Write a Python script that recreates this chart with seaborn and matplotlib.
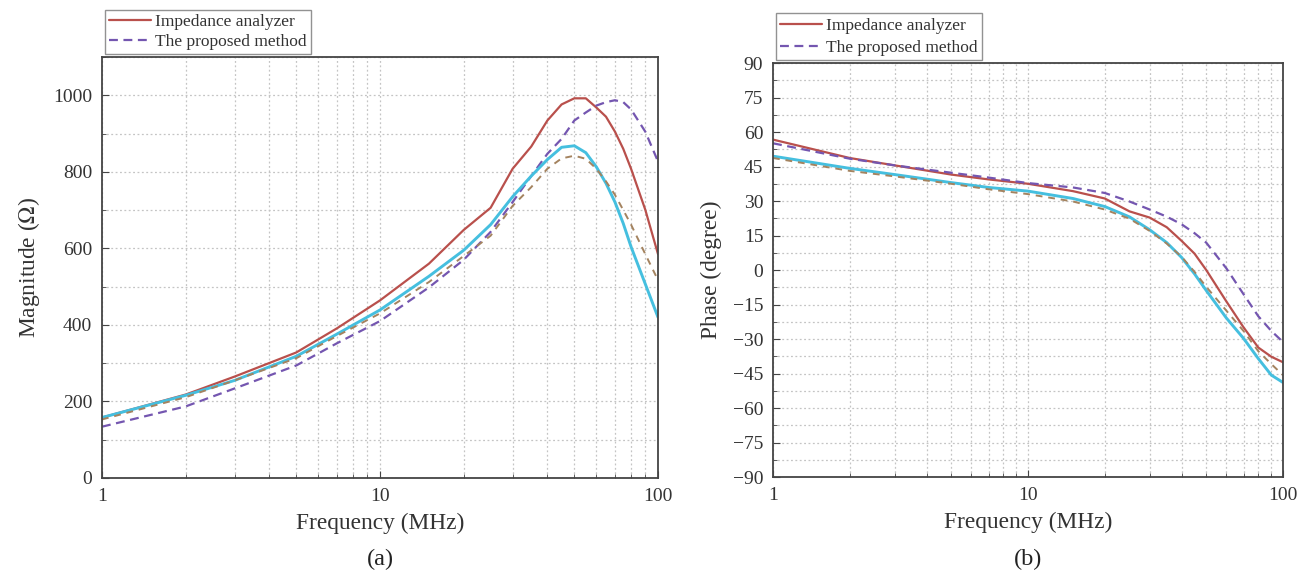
import numpy as np
import pandas as pd
import matplotlib
matplotlib.use('Agg')
import matplotlib.pyplot as plt
import matplotlib.ticker as mticker
import seaborn as sns

# --- DATOS: magnitud (a) ---
freq_mag = [1, 2, 3, 5, 7, 10, 15, 20, 25, 30, 35, 40, 45, 50, 55, 60, 65, 70, 75, 80, 90, 100]
mag_analyzer = [158, 218, 265, 328, 391, 464, 560, 648, 706, 808, 866, 934, 976, 992, 992, 968, 944, 905, 860, 808, 701, 585]
mag_proposed = [134, 187, 234, 294, 352, 410, 498, 570, 643, 721, 789, 847, 886, 934, 955, 973, 982, 987, 982, 963, 905, 827]
mag_analyzer2 = [158, 216, 255, 318, 376, 439, 527, 595, 662, 735, 789, 832, 864, 868, 850, 813, 770, 721, 665, 604, 507, 420]
mag_proposed2 = [153, 211, 255, 313, 371, 430, 512, 580, 633, 711, 760, 808, 835, 842, 834, 808, 775, 740, 700, 662, 585, 517]

# --- DATOS: fase (b) ---
freq_ph = [1, 2, 3, 5, 7, 10, 15, 20, 25, 30, 35, 40, 45, 50, 60, 70, 80, 90, 100]
ph_analyzer = [56.7, 48.7, 45.5, 41.5, 39.4, 37.5, 34.3, 31.1, 25.5, 22.8, 18.6, 12.7, 7.1, 0.0, -13.7, -24.9, -33.7, -37.7, -40.1]
ph_proposed = [55.1, 48.4, 45.5, 42.3, 40.2, 37.8, 35.9, 33.5, 29.8, 26.3, 23.2, 19.9, 16.0, 11.9, 0.7, -10.5, -20.1, -26.5, -31.3]
ph_analyzer2 = [49.5, 44.2, 41.5, 38.0, 35.9, 34.3, 31.1, 27.6, 23.1, 17.5, 11.9, 5.5, -1.7, -8.9, -20.9, -29.7, -38.5, -45.7, -48.9]
ph_proposed2 = [48.7, 43.1, 40.7, 37.5, 35.1, 33.0, 29.8, 26.3, 22.3, 17.0, 11.5, 5.8, -0.8, -7.3, -17.7, -26.5, -35.3, -40.9, -45.7]

LEGEND_LABELS = ['Impedance analyzer', 'The proposed method']
C_RED = '#b9504c'
C_PURPLE = '#7456b0'
C_CYAN = '#45bfdf'
C_BROWN = '#a4835f'

sns.set_style('white')
plt.rcParams['font.family'] = ['Liberation Serif', 'DejaVu Serif']
plt.rcParams['mathtext.fontset'] = 'stix'

fig = plt.figure(figsize=(13.04, 5.75), dpi=100)
ax1 = fig.add_axes([0.0782, 0.1687, 0.4264, 0.7322])
ax2 = fig.add_axes([0.5928, 0.1704, 0.3911, 0.7200])


def dibujar(ax, f, s1, s2, s3, s4):
    sns.lineplot(x=f, y=s1, ax=ax, color=C_RED, lw=1.6, legend=False)
    sns.lineplot(x=f, y=s2, ax=ax, color=C_PURPLE, lw=1.6, legend=False)
    sns.lineplot(x=f, y=s3, ax=ax, color=C_CYAN, lw=2.1, legend=False)
    sns.lineplot(x=f, y=s4, ax=ax, color=C_BROWN, lw=1.4, legend=False)
    ax.lines[1].set_linestyle((0, (4, 2.5)))
    ax.lines[3].set_linestyle((0, (3.5, 3)))


def formato(ax, ylabel, etiqueta, espacio):
    ax.set_xscale('log')
    ax.set_xlim(1, 100)
    ax.xaxis.set_major_locator(mticker.FixedLocator([1, 10, 100]))
    ax.xaxis.set_major_formatter(mticker.FixedFormatter(['1', '10', '100']))
    ax.xaxis.set_minor_locator(mticker.LogLocator(base=10, subs=np.arange(2, 10)))
    ax.xaxis.set_minor_formatter(mticker.NullFormatter())
    ax.grid(True, which='both', color='#c4c4c4', linestyle=(0, (1.5, 2)), linewidth=0.9)
    ax.tick_params(which='both', direction='in', colors='#444444', labelcolor='#333333',
                   labelsize=14, bottom=True, left=True)
    ax.tick_params(which='major', length=5, pad=7)
    ax.tick_params(which='minor', length=3)
    for sp in ax.spines.values():
        sp.set_color('#444444')
        sp.set_linewidth(1.3)
    ax.set_xlabel('Frequency (MHz)', fontsize=16.8, color='#333333', labelpad=6)
    ax.set_ylabel(ylabel, fontsize=16.8, color='#333333', labelpad=8)
    pos = ax.get_position()
    fig.text((pos.x0 + pos.x1) / 2, 0.027, etiqueta, ha='center', va='center',
             fontsize=17.5, color='#222222')
    ley = ax.legend(handles=[ax.lines[0], ax.lines[1]], labels=LEGEND_LABELS,
                    loc='lower left', bbox_to_anchor=(0.0, 1.0), borderaxespad=0.15,
                    fontsize=12.5, frameon=True, fancybox=False, handlelength=2.4,
                    handletextpad=0.25, borderpad=0.25, labelspacing=espacio)
    ley.get_frame().set_edgecolor('#777777')
    ley.get_frame().set_linewidth(1.0)
    for t in ley.get_texts():
        t.set_color('#333333')


# (a) magnitud
dibujar(ax1, freq_mag, mag_analyzer, mag_proposed, mag_analyzer2, mag_proposed2)
formato(ax1, 'Magnitude ($\\Omega$)', '(a)', 0.2)
ax1.set_ylim(0, 1100)
ax1.yaxis.set_major_locator(mticker.FixedLocator([0, 200, 400, 600, 800, 1000]))
ax1.yaxis.set_minor_locator(mticker.MultipleLocator(100))

# (b) fase
dibujar(ax2, freq_ph, ph_analyzer, ph_proposed, ph_analyzer2, ph_proposed2)
formato(ax2, 'Phase (degree)', '(b)', 0.35)
ax2.set_ylim(-90, 90)
ax2.yaxis.set_major_locator(mticker.MultipleLocator(15))
ax2.yaxis.set_minor_locator(mticker.MultipleLocator(7.5))

fig.savefig('out.png', dpi=100)
